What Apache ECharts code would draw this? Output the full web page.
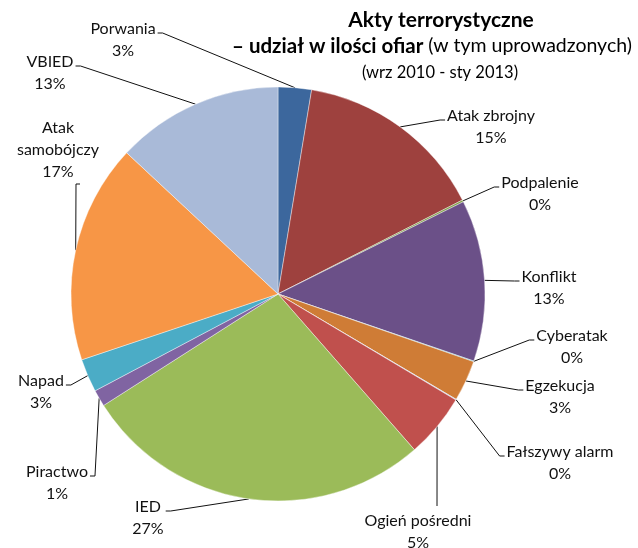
<!DOCTYPE html>
<html>
<head>
<meta charset="utf-8">
<script src="https://cdn.jsdelivr.net/npm/echarts@6/dist/echarts.min.js"></script>
<style>
  html, body { margin: 0; padding: 0; background: #fff; }
  #chart { width: 638px; height: 548px; }
</style>
</head>
<body>
<div id="chart"></div>
<script>
// data (share of victims, %)
const categories = ['Porwania', 'Atak zbrojny', 'Podpalenie', 'Konflikt', 'Cyberatak', 'Egzekucja',
  'Fałszywy alarm', 'Ogień pośredni', 'IED', 'Piractwo', 'Napad', 'Atak samobójczy', 'VBIED'];
const shares = [2.6, 14.9, 0.15, 12.6, 0.05, 3.2, 0.05, 5.0, 27.4, 1.3, 2.6, 17.1, 13.05];
const colors = ['#3C679D', '#9E413E', '#809D47', '#6B5088', '#3A9AB2', '#CF7C36',
  '#A9BDE0', '#C0504D', '#9BBB59', '#8064A2', '#4BACC6', '#F79646', '#A9BAD8'];

// label placement: text centre x, top y, side the leader line comes from
const labelSpots = [
  [123, 18, 'L'], [491, 105, 'R'], [540, 172, 'R'], [549, 266, 'R'], [572, 325, 'R'],
  [560, 375, 'R'], [560, 441, 'R'], [418, 510, 'T'], [148, 496, 'L'], [57, 461, 'L'],
  [41, 370, 'L'], [58, 117, 'B'], [50, 51, 'L']
];
const wrapNames = { 'Atak samobójczy': 'Atak\nsamobójczy' };

const total = shares.reduce((a, b) => a + b, 0);
const chart = echarts.init(document.getElementById('chart'));

const leader = (params) => {
  const [cx, top, side] = labelSpots[params.dataIndex];
  const w = params.labelRect.width, h = params.labelRect.height;
  const start = params.labelLinePoints ? params.labelLinePoints[0] : [cx, top];
  const y = top + 15;
  if (side === 'L') {
    const ex = cx + w / 2 + 2;
    return [start, [ex + 5, y], [ex, y]];
  }
  if (side === 'R') {
    const ex = cx - w / 2 - 2;
    return [start, [ex - 5, y], [ex, y]];
  }
  if (side === 'B') return [start, [cx + 18, top + h + 1], [cx + 22, top + h + 1]];
  return [start, [cx + 19, top - 4]];
};

const titleFont = { fontFamily: 'Lato', fill: '#000', textAlign: 'center', textVerticalAlign: 'middle' };

chart.setOption({
  animation: false,
  graphic: [
    { type: 'text', x: 441, y: 20, silent: true,
      style: Object.assign({ text: 'Akty terrorystyczne', fontSize: 21, fontWeight: 'bold' }, titleFont) },
    { type: 'text', x: 432, y: 46, silent: true,
      style: Object.assign({
        text: '{b|– udział w ilości ofiar}{c| (w tym uprowadzonych)}',
        rich: {
          b: { fontFamily: 'Lato', fontSize: 20.5, fontWeight: 'bold', fill: '#000' },
          c: { fontFamily: 'Lato', fontSize: 19.5, fontWeight: 'normal', fill: '#000' }
        }
      }, titleFont) },
    { type: 'text', x: 440, y: 73, silent: true,
      style: Object.assign({ text: '(wrz 2010 - sty 2013)', fontSize: 16.5 }, titleFont) }
  ],
  series: [{
    type: 'pie',
    center: [278, 294],
    radius: 207,
    startAngle: 90,
    clockwise: true,
    avoidLabelOverlap: false,
    silent: true,
    emphasis: { disabled: true },
    itemStyle: { borderColor: '#fff', borderWidth: 0.4 },
    label: {
      show: true,
      position: 'outside',
      fontFamily: 'Lato',
      fontSize: 16,
      lineHeight: 22,
      color: '#111',
      align: 'center',
      formatter: (p) => (wrapNames[p.name] || p.name) + '\n' + Math.round(p.value / total * 100) + '%'
    },
    labelLine: { show: true, length: 10, length2: 10, lineStyle: { color: '#111', width: 1 } },
    labelLayout: (params) => ({
      x: labelSpots[params.dataIndex][0],
      y: labelSpots[params.dataIndex][1],
      align: 'center',
      verticalAlign: 'top',
      labelLinePoints: leader(params)
    }),
    data: categories.map((name, i) => ({ name, value: shares[i], itemStyle: { color: colors[i] } }))
  }]
});
</script>
</body>
</html>
